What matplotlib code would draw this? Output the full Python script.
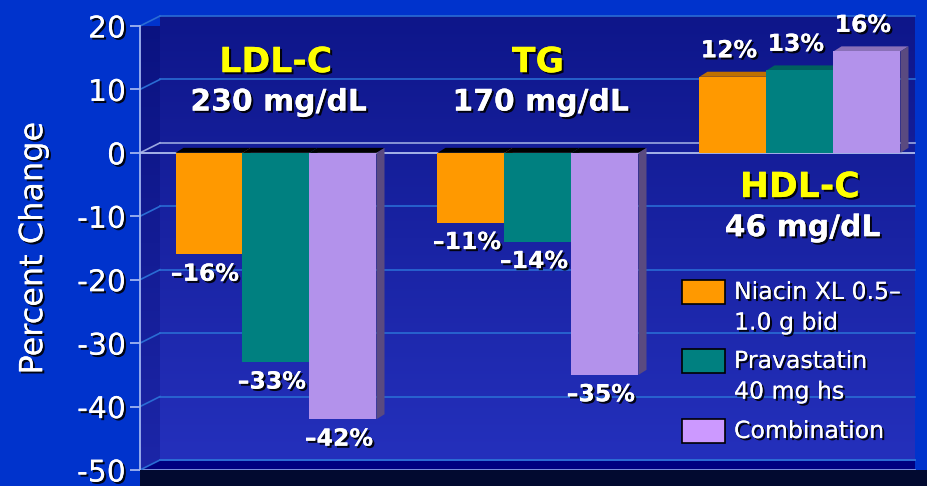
import numpy as np
import matplotlib
matplotlib.use("Agg")
import matplotlib.pyplot as plt
import matplotlib.patheffects as pe
from matplotlib.patches import Polygon, Rectangle
from matplotlib.colors import LinearSegmentedColormap

plt.rcParams['font.family'] = ['DejaVu Sans']
plt.rcParams['axes.unicode_minus'] = False

# lipid groups and the three treatment arms
groups = ['LDL-C', 'TG', 'HDL-C']
baselines = ['230 mg/dL', '170 mg/dL', '46 mg/dL']
series = ['Niacin XL 0.5\u2013\n1.0 g bid', 'Pravastatin\n40 mg hs', 'Combination']
niacin = [-16, -11, 12]
prava = [-33, -14, 13]
combo = [-42, -35, 16]
yticks = [20, 10, 0, -10, -20, -30, -40, -50]

front_cols = ['#FF9900', '#008080', '#B392EB']
top_cols = ['#C07000', '#005F5F', '#8A70B8']
side_cols = ['#A86400', '#004C4C', '#5A4A80']
legend_cols = ['#FF9900', '#008080', '#CC99FF']

W, H = 928, 486
fig = plt.figure(figsize=(W / 100, H / 100), dpi=100)
fig.patch.set_facecolor('#0033CC')

ax_l, ax_r, ax_t, ax_b = 140, 915, 26, 470
ax = fig.add_axes([ax_l / W, 1 - ax_b / H, (ax_r - ax_l) / W, (ax_b - ax_t) / H])
ax.set_facecolor('none')

unit = 262.0
x0 = -136 / unit
x1 = x0 + (ax_r - ax_l) / unit
ax.set_xlim(x0, x1)
ax.set_ylim(-50, 20)
px_x = 1 / unit
px_y = 70 / (ax_b - ax_t)

# back wall, side wall and floor
wall_dx, wall_dy = 20 * px_x, 10 * px_y
wall_cmap = LinearSegmentedColormap.from_list('wall', ['#2430BC', '#0E168A'])
grad = np.linspace(0, 1, 256).reshape(-1, 1)
ax.imshow(grad, cmap=wall_cmap, aspect='auto', origin='lower',
          extent=[x0 + wall_dx, x1, -50 + wall_dy, 20 + wall_dy],
          clip_on=False, zorder=0)
side = Polygon([(x0, -50), (x0 + wall_dx, -50 + wall_dy), (x0 + wall_dx, 20 + wall_dy), (x0, 20)],
               closed=True, facecolor='none', edgecolor='none')
ax.add_patch(side)
im_side = ax.imshow(grad, cmap=LinearSegmentedColormap.from_list('side', ['#1C26A8', '#0A1280']),
                    aspect='auto', origin='lower', extent=[x0, x0 + wall_dx, -50, 20 + wall_dy],
                    clip_on=True, zorder=0)
im_side.set_clip_path(side)
ax.add_patch(Polygon([(x0, -50), (x0 + wall_dx, -50 + wall_dy), (x1, -50 + wall_dy), (x1, -50)],
                     closed=True, facecolor='#000080', edgecolor='none', zorder=0.5, clip_on=False))
ax.plot([x0 + wall_dx, x1], [-50 + wall_dy] * 2, color='#3A78E0', lw=1.2, zorder=0.6, clip_on=False)
ax.plot([x0, x1], [-50, -50], color='#8FA8EE', lw=1.2, zorder=0.6, clip_on=False)

# shadow strip under the floor
fig.patches.append(Rectangle((ax_l / W, 0), (W - ax_l) / W, (H - ax_b) / H,
                             transform=fig.transFigure, facecolor='#020A30', edgecolor='none', zorder=0))

# gridlines on the back wall
for t in yticks:
    col = '#9AA8E0' if t == 0 else '#2A6CD4'
    ax.plot([x0 + wall_dx, x1], [t + wall_dy] * 2, color=col, lw=1.2, zorder=0.7, clip_on=False)
    ax.plot([x0, x0 + wall_dx], [t, t + wall_dy], color=col, lw=1.2, zorder=0.7, clip_on=False)
ax.plot([x0, x1], [0, 0], color='#B0BEEE', lw=1.3, zorder=0.8)

# bars with simple 3D faces
width = 67 / unit
dx, dy = 8 * px_x, 5 * px_y
xs = np.arange(len(groups))
shadow = [pe.withSimplePatchShadow(offset=(1.5, -1.5), shadow_rgbFace='black', alpha=0.9), pe.Normal()]
for i, vals in enumerate([niacin, prava, combo]):
    xl = xs + (i - 1.5) * width
    for g, v in enumerate(vals):
        l, r = xl[g], xl[g] + width
        z = 2 + i
        if v >= 0:
            ax.add_patch(Polygon([(l, v), (l + dx, v + dy), (r + dx, v + dy), (r, v)],
                                 facecolor=top_cols[i], edgecolor='none', zorder=z))
            ax.add_patch(Polygon([(r, 0), (r + dx, dy), (r + dx, v + dy), (r, v)],
                                 facecolor=side_cols[i], edgecolor='none', zorder=z))
        else:
            ax.add_patch(Polygon([(l, 0), (l + dx, dy), (r + dx, dy), (r, 0)],
                                 facecolor='black', edgecolor='none', zorder=z))
            ax.add_patch(Polygon([(r, 0), (r + dx, dy), (r + dx, v + dy), (r, v)],
                                 facecolor=side_cols[i], edgecolor='none', zorder=z))
    ax.bar(xl, vals, width=width, align='edge', color=front_cols[i], zorder=2.5 + i)
    for g, v in enumerate(vals):
        lab = ('\u2013%d%%' % -v) if v < 0 else '%d%%' % v
        ax.annotate(lab, (xl[g] + width / 2, v), xytext=(-3, -14 if v < 0 else 19),
                    textcoords='offset points', ha='center', va='center', color='white',
                    fontsize=17, fontweight='bold', zorder=10, path_effects=shadow)

# group titles
title_pos = [(0, 14.3, 8.0), (1, 14.3, 8.0), (2, -5.4, -11.8)]
for (g, yt, yb), name, base in zip(title_pos, groups, baselines):
    ax.text(g, yt, name, ha='center', va='center', color='#FFFF00', fontsize=25,
            fontweight='bold', zorder=10, path_effects=shadow)
    ax.text(g + 0.01, yb, base, ha='center', va='center', color='white', fontsize=21.5,
            fontweight='bold', zorder=10, path_effects=shadow)

# axes styling
for s in ['top', 'right', 'bottom']:
    ax.spines[s].set_visible(False)
ax.spines['left'].set_color('#A0B4F0')
ax.spines['left'].set_linewidth(1.3)
ax.set_xticks([])
ax.set_yticks(yticks)
ax.set_yticklabels([str(t) for t in yticks])
ax.tick_params(axis='y', colors='#A0B4F0', labelcolor='white', labelsize=21.5, length=7, width=1.3, pad=3)
for lab in ax.get_yticklabels():
    lab.set_path_effects(shadow)
ax.set_ylabel('Percent Change', color='white', fontsize=23, labelpad=20, path_effects=shadow)

# legend
leg_y = [292, 361, 431]
for col, name, yc in zip(legend_cols, series, leg_y):
    fig.patches.append(Rectangle((682 / W, 1 - (yc + 12) / H), 43 / W, 24 / H,
                                 transform=fig.transFigure, facecolor=col, edgecolor='black',
                                 lw=1.2, zorder=5))
    fig.text(734 / W, 1 - (yc - 12) / H, name, ha='left', va='top', color='white', fontsize=17,
             linespacing=1.35, path_effects=shadow)

fig.savefig('out.png', dpi=100, facecolor=fig.get_facecolor())
